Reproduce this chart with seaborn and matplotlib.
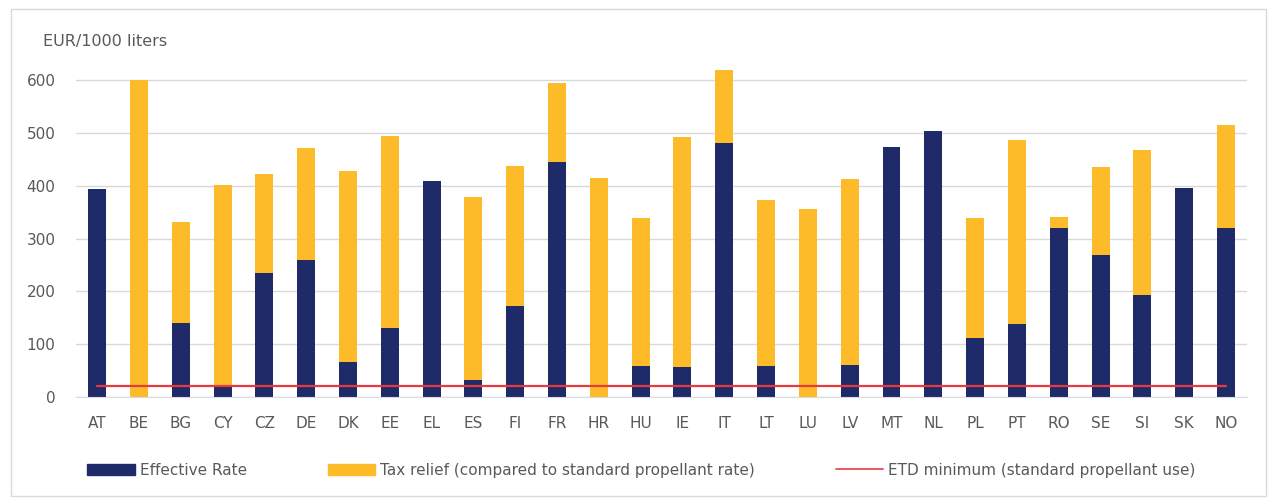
import matplotlib.pyplot as plt
import matplotlib.patches as mpatches
import matplotlib.lines as mlines
import seaborn as sns
import pandas as pd

countries = ["AT", "BE", "BG", "CY", "CZ", "DE", "DK", "EE", "EL", "ES", "FI", "FR", "HR", "HU",
             "IE", "IT", "LT", "LU", "LV", "MT", "NL", "PL", "PT", "RO", "SE", "SI", "SK", "NO"]
effective_rate = [395, 0, 141, 21, 235, 259, 67, 131, 409, 33, 172, 445, 0, 59,
                  57, 481, 59, 0, 61, 474, 503, 112, 138, 320, 269, 193, 396, 320]
tax_relief = [0, 600, 190, 380, 188, 213, 362, 364, 0, 346, 265, 150, 414, 280,
              436, 138, 314, 356, 352, 0, 0, 227, 349, 21, 167, 275, 0, 195]
etd_minimum = 21

df = pd.DataFrame({"country": countries, "effective": effective_rate, "relief": tax_relief})
df["total"] = df["effective"] + df["relief"]
df["etd"] = etd_minimum

navy = "#1F2A68"
yellow = "#FDBB2A"
red = "#E8393F"
grey_txt = "#595959"

sns.set_style("white")
plt.rcParams["font.family"] = ["DejaVu Sans"]

fig = plt.figure(figsize=(12.71, 4.99), dpi=100)
ax = fig.add_axes([0.060, 0.2044, 0.921, 0.677])

sns.barplot(data=df, x="country", y="total", color=yellow, width=0.43, saturation=1,
            linewidth=0, ax=ax)
sns.barplot(data=df, x="country", y="effective", color=navy, width=0.43, saturation=1,
            linewidth=0, ax=ax)
sns.lineplot(data=df, x="country", y="etd", color=red, linewidth=1.6, ax=ax)

ax.set_ylim(0, 640)
ax.set_xlim(-0.5, len(countries) - 0.5)
ax.set_yticks([0, 100, 200, 300, 400, 500, 600])
ax.yaxis.grid(True, color="#D9D9D9", linewidth=1)
ax.set_axisbelow(True)
ax.set_xlabel("")
ax.set_ylabel("")
for s in ["left", "right", "top"]:
    ax.spines[s].set_visible(False)
ax.spines["bottom"].set_color("#D6DCE5")
ax.tick_params(axis="both", length=0, colors=grey_txt, labelsize=11)
ax.tick_params(axis="y", pad=15)
ax.tick_params(axis="x", pad=14)

fig.text(0.034, 0.916, "EUR/1000 liters", fontsize=11.5, color=grey_txt, va="center", ha="left")

handles = [
    mpatches.Patch(color=navy, label="Effective Rate"),
    mpatches.Patch(color=yellow, label="Tax relief (compared to standard propellant rate)"),
    mlines.Line2D([], [], color=red, linewidth=1.2, label="ETD minimum (standard propellant use)"),
]
leg = fig.legend(handles=handles, loc="center left", bbox_to_anchor=(0.058, 0.058), ncol=3,
                 frameon=False, fontsize=11, handlelength=3.1, handleheight=0.72,
                 columnspacing=5.3, handletextpad=0.33)
for t in leg.get_texts():
    t.set_color(grey_txt)

fig.patches.append(mpatches.Rectangle((0.009, 0.006), 0.987, 0.975, transform=fig.transFigure,
                                      fill=False, edgecolor="#D9D9D9", linewidth=1))

fig.savefig("out.png", dpi=100)
